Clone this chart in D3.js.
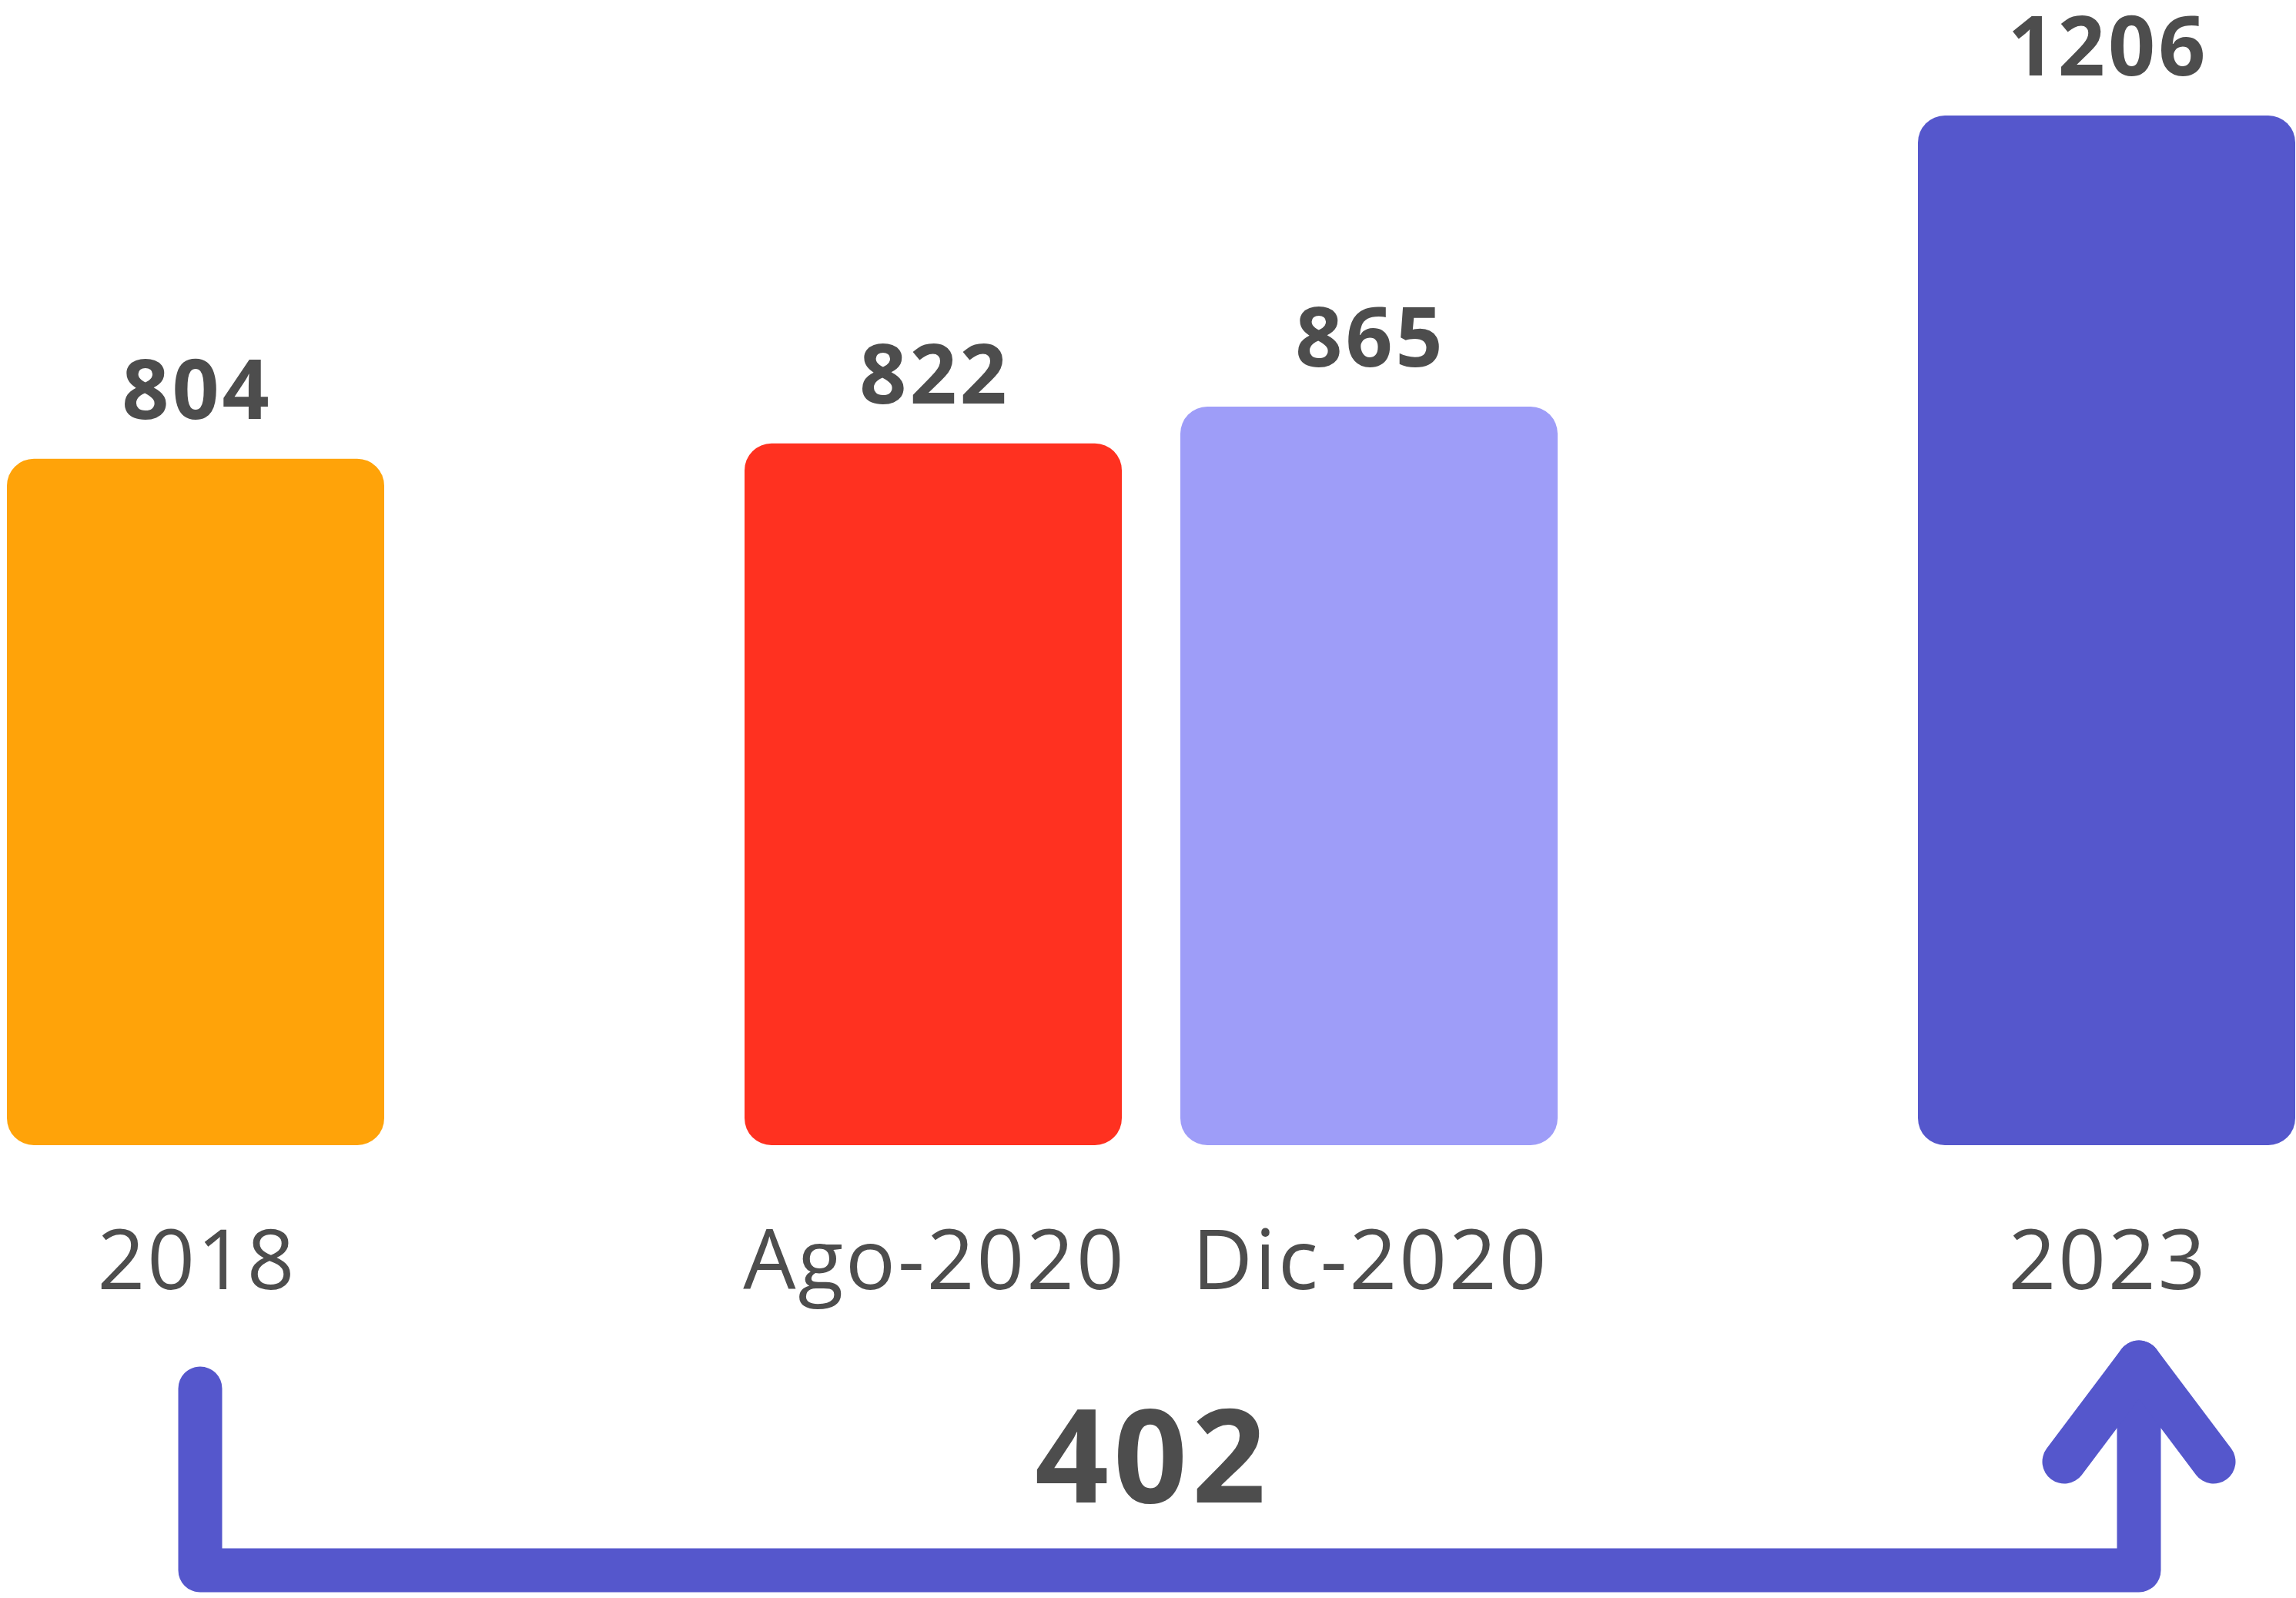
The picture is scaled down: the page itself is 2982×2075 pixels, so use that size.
<!DOCTYPE html>
<html>
<head>
<meta charset="utf-8">
<script src="https://cdn.jsdelivr.net/npm/d3@7"></script>
<style>
  body { margin: 0; background: #fff; }
  text { font-family: "Open Sans", sans-serif; fill: #4d4d4d; }
</style>
</head>
<body>
<div id="chart"></div>
<script>
// data
var categories = ["2018", "Ago-2020", "Dic-2020", "2023"];
var values = [804, 822, 865, 1206];
var colors = ["#ffa309", "#ff3120", "#9e9df8", "#5557cc"];

// settings
var width = 2982, height = 2075;
var baseline = 1487, plotTop = 150;
var barW = 490, barGap = 76;

var svg = d3.select("#chart")
  .append("svg")
  .attr("width", width)
  .attr("height", height);

var data = categories.map(function(c, i) {
  return {cat: c, group: c.slice(-4), value: values[i], color: colors[i]};
});

// bars are grouped by year, the two 2020 bars sit side by side
var groups = Array.from(new Set(data.map(function(d) { return d.group; })));
var xGroup = d3.scalePoint()
  .domain(groups)
  .range([9 + barW / 2, 2981 - barW / 2]);

var inner = {};
groups.forEach(function(g) {
  var members = data.filter(function(d) { return d.group == g; }).map(function(d) { return d.cat; });
  var n = members.length;
  var w = n * barW + (n - 1) * barGap;
  inner[g] = d3.scaleBand()
    .domain(members)
    .range([-w / 2, w / 2])
    .paddingInner(n > 1 ? barGap / (barW + barGap) : 0);
});

function xLeft(d) { return xGroup(d.group) + inner[d.group](d.cat); }
function xMid(d) { return xLeft(d) + inner[d.group].bandwidth() / 2; }

var y = d3.scaleLinear()
  .domain([0, d3.max(values)])
  .range([baseline, plotTop]);

svg.selectAll("rect.bar")
  .data(data)
  .enter()
  .append("rect")
    .attr("class", "bar")
    .attr("x", xLeft)
    .attr("y", function(d) { return y(d.value); })
    .attr("width", function(d) { return inner[d.group].bandwidth(); })
    .attr("height", function(d) { return baseline - y(d.value); })
    .attr("rx", 35)
    .attr("fill", function(d) { return d.color; });

// value labels
svg.selectAll("text.val")
  .data(data)
  .enter()
  .append("text")
    .attr("class", "val")
    .attr("x", xMid)
    .attr("dx", 2)
    .attr("y", function(d) { return y(d.value) - 52; })
    .attr("text-anchor", "middle")
    .attr("font-size", 107)
    .attr("font-weight", 700)
    .attr("letter-spacing", 4)
    .text(function(d) { return d.value; });

// category labels
svg.selectAll("text.cat")
  .data(data)
  .enter()
  .append("text")
    .attr("class", "cat")
    .attr("x", xMid)
    .attr("dx", 2)
    .attr("y", 1674)
    .attr("text-anchor", "middle")
    .attr("font-size", 108)
    .attr("font-weight", 500)
    .attr("letter-spacing", 3)
    .text(function(d) { return d.cat; });

// growth arrow from first to last
var first = data[0], last = data[data.length - 1];
var ax0 = xMid(first) + 6, ax1 = xMid(last) + 42;
var aBottom = 2039, aTop0 = 1803, aTip = 1769;

var arrow = d3.path();
arrow.moveTo(ax0, aTop0);
arrow.lineTo(ax0, aBottom);
arrow.lineTo(ax1, aBottom);
arrow.lineTo(ax1, aTip);

var head = d3.path();
head.moveTo(ax1 - 97, 1898);
head.lineTo(ax1, aTip);
head.lineTo(ax1 + 97, 1898);

[arrow, head].forEach(function(p) {
  svg.append("path")
    .attr("d", p.toString())
    .attr("fill", "none")
    .attr("stroke", "#5557cc")
    .attr("stroke-width", 57)
    .attr("stroke-linecap", "round")
    .attr("stroke-linejoin", "round");
});

svg.append("text")
  .attr("x", (ax0 + ax1) / 2 - 25)
  .attr("dx", 3)
  .attr("y", 1951)
  .attr("text-anchor", "middle")
  .attr("font-size", 168)
  .attr("font-weight", 700)
  .attr("letter-spacing", 6)
  .text(last.value - first.value);
</script>
</body>
</html>
